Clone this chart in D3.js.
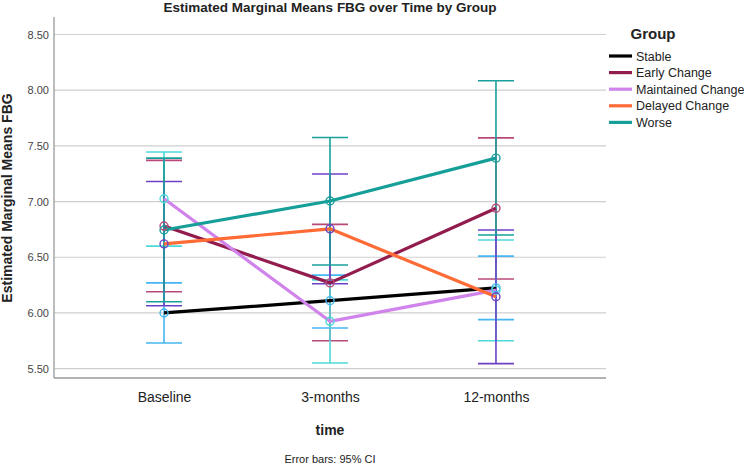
<!DOCTYPE html>
<html><head><meta charset="utf-8">
<script src="https://cdn.jsdelivr.net/npm/d3@7/dist/d3.min.js"></script>
<style>body{margin:0;background:#fff}svg{display:block;font-family:"Liberation Sans",Arial,sans-serif}</style>
</head><body><svg id="c" width="744" height="465"></svg>
<script>
const timePoints = ["Baseline", "3-months", "12-months"];
const groups = ["Stable", "Early Change", "Maintained Change", "Delayed Change", "Worse"];
const lineColors = ["#000000", "#931c4f", "#d083ea", "#ff6b35", "#169e98"];
const barColors = ["#44b6f2", "#b8487a", "#4ed8d8", "#6c40c4", "#18a09c"];
const means = [
  [6.00, 6.11, 6.225],
  [6.78, 6.27, 6.94],
  [7.025, 5.925, 6.205],
  [6.62, 6.755, 6.145],
  [6.745, 7.005, 7.39]
];
const lower = [
  [5.73, 5.865, 5.94],
  [6.19, 5.75, 6.305],
  [6.60, 5.55, 5.75],
  [6.065, 6.262, 5.545],
  [6.10, 6.43, 6.70]
];
const upper = [
  [6.27, 6.34, 6.51],
  [7.37, 6.795, 7.572],
  [7.445, 6.297, 6.655],
  [7.18, 7.248, 6.745],
  [7.39, 7.575, 8.085]
];
const yTicks = [5.5, 6.0, 6.5, 7.0, 7.5, 8.0, 8.5];

const svg = d3.select("#c");
const L = 54, R = 606, T = 17, B = 378;
const x = d3.scalePoint().domain(timePoints).range([L, R]).padding(0.663);
const y = d3.scaleLinear().domain([5.416, 8.657]).range([B, T]);

// grid
svg.append("g").selectAll("line").data(yTicks).join("line")
  .attr("x1", L).attr("x2", R).attr("y1", d => y(d)).attr("y2", d => y(d))
  .attr("stroke", "#cfcfcf").attr("stroke-width", 1.2);

// axes
const ya = svg.append("g").attr("transform", `translate(${L},0)`)
  .call(d3.axisLeft(y).tickValues(yTicks).tickFormat(d3.format(".2f")).tickSize(0).tickPadding(5));
ya.select(".domain").remove();
ya.selectAll("text").attr("font-size", 11).attr("fill", "#444").attr("font-family", "Liberation Sans, Arial, sans-serif");
svg.append("line").attr("x1", L).attr("x2", L).attr("y1", T).attr("y2", B).attr("stroke", "#999").attr("stroke-width", 1.3);
svg.append("line").attr("x1", L).attr("x2", R).attr("y1", B).attr("y2", B).attr("stroke", "#999").attr("stroke-width", 1.3);

const xa = svg.append("g").attr("transform", `translate(0,${B})`)
  .call(d3.axisBottom(x).tickSize(0).tickPadding(14));
xa.select(".domain").remove();
xa.selectAll("text").attr("font-size", 14).attr("fill", "#222").attr("font-family", "Liberation Sans, Arial, sans-serif");

// error bars
const capW = 18;
groups.forEach((g, gi) => {
  const eb = svg.append("g").attr("stroke", barColors[gi]).attr("stroke-width", 1.6).attr("fill", "none");
  timePoints.forEach((t, ti) => {
    const cx = x(t);
    eb.append("line").attr("x1", cx).attr("x2", cx).attr("y1", y(lower[gi][ti])).attr("y2", y(upper[gi][ti]));
    eb.append("line").attr("x1", cx - capW).attr("x2", cx + capW).attr("y1", y(lower[gi][ti])).attr("y2", y(lower[gi][ti]));
    eb.append("line").attr("x1", cx - capW).attr("x2", cx + capW).attr("y1", y(upper[gi][ti])).attr("y2", y(upper[gi][ti]));
  });
});

// lines
const line = d3.line().x((d, i) => x(timePoints[i])).y(d => y(d));
groups.forEach((g, gi) => {
  svg.append("path").attr("d", line(means[gi])).attr("fill", "none")
    .attr("stroke", lineColors[gi]).attr("stroke-width", 3.2).attr("stroke-linejoin", "round");
});

// markers
groups.forEach((g, gi) => {
  svg.append("g").selectAll("circle").data(means[gi]).join("circle")
    .attr("cx", (d, i) => x(timePoints[i])).attr("cy", d => y(d)).attr("r", 4)
    .attr("fill", "none").attr("stroke", barColors[gi]).attr("stroke-width", 1.4);
});

// titles
svg.append("text").attr("x", 330).attr("y", 12).attr("text-anchor", "middle")
  .attr("font-size", 13.5).attr("font-weight", "bold").attr("fill", "#222")
  .text("Estimated Marginal Means FBG over Time by Group");
svg.append("text").attr("transform", "translate(12,198) rotate(-90)").attr("text-anchor", "middle")
  .attr("font-size", 14).attr("font-weight", "bold").attr("fill", "#222")
  .text("Estimated Marginal Means FBG");
svg.append("text").attr("x", 330).attr("y", 435).attr("text-anchor", "middle")
  .attr("font-size", 14).attr("font-weight", "bold").attr("fill", "#222").text("time");
svg.append("text").attr("x", 330).attr("y", 463).attr("text-anchor", "middle")
  .attr("font-size", 11).attr("fill", "#222").text("Error bars: 95% CI");

// legend
svg.append("text").attr("x", 653).attr("y", 39).attr("text-anchor", "middle")
  .attr("font-size", 15).attr("font-weight", "bold").attr("fill", "#222").text("Group");
const lg = svg.append("g");
groups.forEach((g, gi) => {
  const yy = 56 + gi * 16.6;
  lg.append("line").attr("x1", 609).attr("x2", 632).attr("y1", yy).attr("y2", yy)
    .attr("stroke", lineColors[gi]).attr("stroke-width", 3.2);
  lg.append("text").attr("x", 636).attr("y", yy + 4.5).attr("font-size", 12.5).attr("fill", "#222").text(g);
});
</script></body></html>
